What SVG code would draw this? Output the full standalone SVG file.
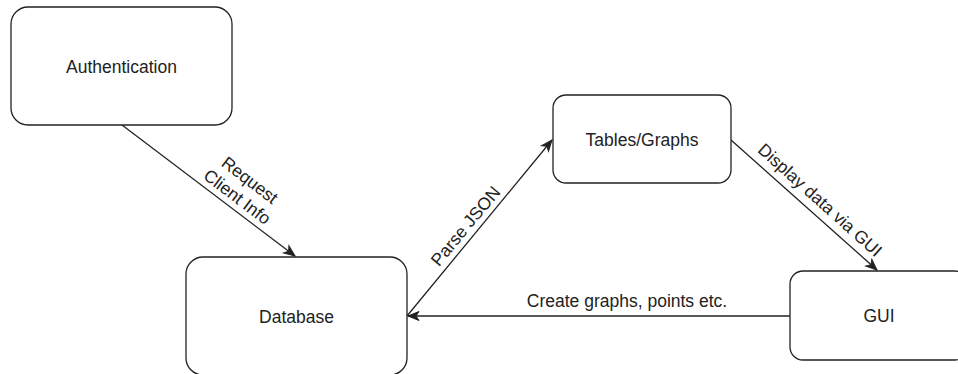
<svg xmlns="http://www.w3.org/2000/svg" width="958" height="374" viewBox="0 0 958 374">
<style>
.node rect{fill:#fff;stroke:#222;stroke-width:1.3}
text{font-family:"Liberation Sans",Arial,sans-serif;font-size:17.5px;fill:#222}
.node text{text-anchor:middle}
.lbl{text-anchor:middle}
.edge{fill:none;stroke:#222;stroke-width:1.3}
</style>
<defs>
<marker id="arr" markerUnits="userSpaceOnUse" orient="auto" refX="0" refY="0" markerWidth="14" markerHeight="12" viewBox="-12 -6 14 12" overflow="visible">
<path d="M-11,-4.5 L0,0 L-11,4.5 L-8,0 Z" fill="#222" stroke="#222" stroke-width="1"/>
</marker>
</defs>
<rect width="958" height="374" fill="#fff"/>
<g id="connectors">
<line class="edge" x1="122" y1="125" x2="295" y2="256" marker-end="url(#arr)"/>
<line class="edge" x1="407" y1="316" x2="552" y2="140" marker-end="url(#arr)"/>
<line class="edge" x1="731" y1="140" x2="877" y2="270" marker-end="url(#arr)"/>
<line class="edge" x1="790" y1="316" x2="408" y2="316" marker-end="url(#arr)"/>
<g transform="translate(243.5,188.5) rotate(37.2)">
<text class="lbl" x="0" y="-4.5">Request</text>
<text class="lbl" x="0" y="16.5">Client Info</text>
</g>
<text class="lbl" transform="translate(465.5,226) rotate(-50.2)" x="0" y="6">Parse JSON</text>
<text class="lbl" transform="translate(820,200) rotate(41.9)" x="0" y="6">Display data via GUI</text>
<text class="lbl" x="627" y="307">Create graphs, points etc.</text>
</g>
<g id="authentication" class="node">
<rect x="11" y="7" width="221" height="118" rx="17" ry="17"/>
<text x="121.5" y="73">Authentication</text>
</g>
<g id="database" class="node">
<rect x="186" y="257" width="221" height="118" rx="17" ry="17"/>
<text x="296.5" y="322.5">Database</text>
</g>
<g id="tables-graphs" class="node">
<rect x="553" y="95" width="178" height="88" rx="13" ry="13"/>
<text x="642" y="145.5">Tables/Graphs</text>
</g>
<g id="gui" class="node">
<rect x="790" y="271" width="178" height="89" rx="13" ry="13"/>
<text x="879" y="322">GUI</text>
</g>
</svg>
